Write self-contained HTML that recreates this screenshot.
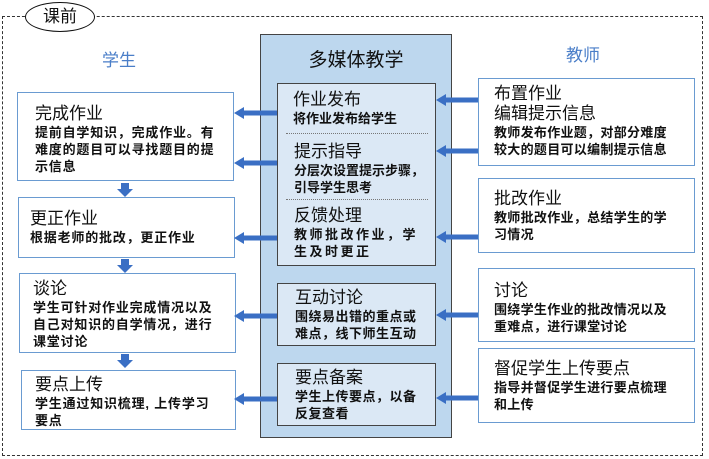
<!DOCTYPE html>
<html><head><meta charset="utf-8"><style>
body{margin:0;width:709px;height:459px;background:#fff;position:relative;overflow:hidden;font-family:"Liberation Sans","Noto Sans CJK SC",sans-serif;color:#111}
div{position:absolute;box-sizing:border-box;white-space:nowrap}
.b{background:#fff;border:1.5px solid #6a9bd1;padding:6px 0 0 17px}
.h{font-size:17px;line-height:20px}
.t{font-size:13px;line-height:17px;font-weight:bold;letter-spacing:0.8px}
.ib{background:#dbe8f5;border:1.5px solid #444;padding:4px 0 0 17px}
.s{position:static}
</style></head><body>
<div style="left:2px;top:16px;width:701px;height:440px;border:1px dashed #333"></div>
<div style="left:25px;top:2px;width:70px;height:30px;border:1.2px solid #111;border-radius:50%;background:#fff;text-align:center;font-size:17px;line-height:28px">课前</div>
<div style="left:102px;top:46px;font-size:17px;color:#4a7ec8">学生</div>
<div style="left:566px;top:41px;font-size:17px;color:#4a7ec8">教师</div>

<div style="left:260px;top:34px;width:192px;height:404px;background:#bdd7ee;border:1.5px solid #444"></div>
<div style="left:260px;top:45px;width:192px;text-align:center;font-size:19px">多媒体教学</div>
<div class="ib" style="left:277px;top:83px;width:159px;height:183px"></div>
<div style="left:286px;top:133px;width:142px;border-top:1px dotted #777"></div>
<div style="left:286px;top:199px;width:142px;border-top:1px dotted #777"></div>
<div style="left:293px;top:90px"><div class="h s">作业发布</div><div class="t s" style="letter-spacing:0">将作业发布给学生</div></div>
<div style="left:294px;top:142px"><div class="h s">提示指导</div><div class="t s" style="letter-spacing:0">分层次设置提示步骤，<br>引导学生思考</div></div>
<div style="left:294px;top:206px"><div class="h s">反馈处理</div><div class="t s" style="letter-spacing:2.5px">教师批改作业，学<br>生及时更正</div></div>
<div class="ib" style="left:277px;top:283px;width:159px;height:63px"><div class="h s">互动讨论</div><div class="t s" style="letter-spacing:0.5px">围绕易出错的重点或<br>难点，线下师生互动</div></div>
<div class="ib" style="left:277px;top:363px;width:159px;height:63px"><div class="h s">要点备案</div><div class="t s" style="letter-spacing:0.5px">学生上传要点，以备<br>反复查看</div></div>

<div class="b" style="left:17px;top:92px;width:217px;height:89px;padding-top:11px"><div class="h s">完成作业</div><div class="t s">提前自学知识，完成作业。有<br>难度的题目可以寻找题目的提<br>示信息</div></div>
<div class="b" style="left:18px;top:197px;width:217px;height:61px;padding-left:11px;padding-top:11px"><div class="h s">更正作业</div><div class="t s">根据老师的批改，更正作业</div></div>
<div class="b" style="left:19px;top:273px;width:217px;height:80px;padding-left:13px;padding-top:5px"><div class="h s">谈论</div><div class="t s">学生可针对作业完成情况以及<br>自己对知识的自学情况，进行<br>课堂讨论</div></div>
<div class="b" style="left:21px;top:370px;width:215px;height:60px;padding-left:13px;padding-top:4px"><div class="h s">要点上传</div><div class="t s">学生通过知识梳理, 上传学习<br>要点</div></div>

<div class="b" style="left:478px;top:78px;width:217px;height:88px;padding-left:15px;padding-top:5px"><div class="h s">布置作业<br>编辑提示信息</div><div class="t s" style="letter-spacing:0.3px">教师发布作业题，对部分难度<br>较大的题目可以编制提示信息</div></div>
<div class="b" style="left:478px;top:178px;width:217px;height:75px;padding-left:15px;padding-top:10px"><div class="h s">批改作业</div><div class="t s" style="letter-spacing:0.3px">教师批改作业，总结学生的学<br>习情况</div></div>
<div class="b" style="left:478px;top:268px;width:217px;height:74px;padding-left:15px;padding-top:12px"><div class="h s">讨论</div><div class="t s" style="letter-spacing:0.3px">围绕学生作业的批改情况以及<br>重难点，进行课堂讨论</div></div>
<div class="b" style="left:478px;top:348px;width:217px;height:75px;padding-left:15px;padding-top:10px"><div class="h s">督促学生上传要点</div><div class="t s" style="letter-spacing:0.3px">指导并督促学生进行要点梳理<br>和上传</div></div>

<svg style="position:absolute;left:0;top:0" width="709" height="459">
<defs>
<g id="la"><rect x="242" y="-2.5" width="35" height="5"/><polygon points="234,0 244,-6 244,6"/></g>
<g id="ra"><rect x="445" y="-2.5" width="33" height="5"/><polygon points="436,0 446,-6 446,6"/></g>
<g id="da"><rect x="121" y="0" width="8" height="6"/><polygon points="117,6 133,6 125,14"/></g>
</defs>
<g fill="#3a6fc4">
<use href="#la" y="113"/><use href="#la" y="163"/><use href="#la" y="238"/><use href="#la" y="316"/><use href="#la" y="399"/>
<use href="#ra" y="100"/><use href="#ra" y="151"/><use href="#ra" y="237"/><use href="#ra" y="315"/><use href="#ra" y="398"/>
<use href="#da" y="183"/><use href="#da" y="259"/><use href="#da" y="354"/>
</g>
</svg>
</body></html>
